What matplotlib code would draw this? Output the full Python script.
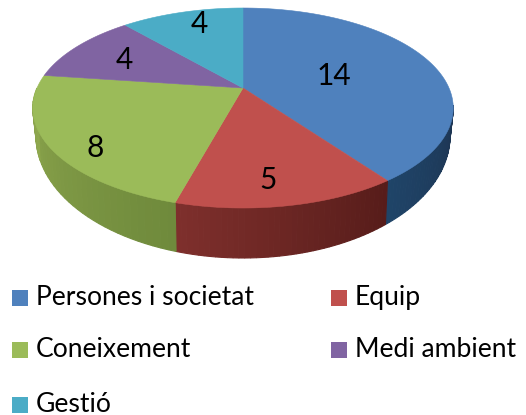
import numpy as np
import matplotlib
matplotlib.use("Agg")
import matplotlib.pyplot as plt
from matplotlib.patches import Rectangle

plt.rcParams['font.family'] = ['Lato', 'DejaVu Sans']

categories = ["Persones i societat", "Equip", "Coneixement", "Medi ambient", "Gestió"]
values = [14, 5, 8, 4, 4]
colors = ["#4F81BD", "#C0504D", "#9BBB59", "#8064A2", "#4BACC6"]
side_start = ["#1D3350", "#571C1A", "#6F8A3C", "#5A4573", "#2F7F96"]
side_end = ["#1F4468", "#7E2F2C", "#8FA84E", "#5A4573", "#2F7F96"]

# where the value labels sit (pixels)
label_x = [334, 268, 95, 124, 199]
label_y = [76, 180, 148, 60, 24]

# pie geometry in pixels
cx = 243
pivot_y = 88
p = 0.2
a = -78.4
r = 206
bot_cy = 136
bot_rx = 207
bot_ry = 122


def proj(theta):  # top face with perspective, theta clockwise from the top
    X = np.sin(theta)
    Y = np.cos(theta)
    d = 1 + p * Y
    return cx + r * X / d, (pivot_y + a * Y) / d


def rim_bottom(x):  # lower edge of the side wall
    xb = cx + (x - cx) * bot_rx / 210
    u = np.clip((xb - cx) / bot_rx, -1, 1)
    return xb, bot_cy + bot_ry * np.sqrt(1 - u * u)


fig = plt.figure(figsize=(5.26, 4.15), dpi=100)
ax = fig.add_axes([0, 0, 1, 1])
ax.set_xlim(0, 526)
ax.set_ylim(415, 0)
ax.axis("off")

edges = np.concatenate([[0], np.cumsum(values)]) / sum(values) * 2 * np.pi

# side wall, only the front part of the rim (short strips for the shading)
front_a, front_b = np.radians(100), np.radians(270)
for i in range(len(values)):
    t0 = max(edges[i], front_a)
    t1 = min(edges[i + 1], front_b)
    if t1 <= t0:
        continue
    steps = np.linspace(t0, t1, 40)
    c0 = np.array(matplotlib.colors.to_rgb(side_start[i]))
    c1 = np.array(matplotlib.colors.to_rgb(side_end[i]))
    for j in range(39):
        tt = np.linspace(steps[j], steps[j + 1], 3)
        xt, yt = proj(tt)
        xb, yb = rim_bottom(xt)
        col = c0 + (c1 - c0) * j / 38
        ax.fill(np.r_[xt, xb[::-1]], np.r_[yt, yb[::-1]], facecolor=col,
                edgecolor=col, lw=0.8)

# top face
for i in range(len(values)):
    tt = np.linspace(edges[i], edges[i + 1], 100)
    xt, yt = proj(tt)
    ax.fill(np.r_[cx, xt], np.r_[pivot_y, yt], facecolor=colors[i],
            edgecolor=colors[i], lw=0.4, zorder=3)

for i in range(len(values)):
    ax.text(label_x[i], label_y[i], str(values[i]), fontsize=21.5, color="black",
            ha="center", va="center", zorder=5)

# legend
leg_x = [12, 331]
leg_y = [298, 350, 405]
for i in range(len(categories)):
    col = i % 2
    row = i // 2
    ax.add_patch(Rectangle((leg_x[col], leg_y[row] - 8), 16, 16, facecolor=colors[i], lw=0))
    ax.text(leg_x[col] + 24, leg_y[row] - 1, categories[i], fontsize=19.1, color="black",
            ha="left", va="center")

fig.savefig("out.png", dpi=100)
